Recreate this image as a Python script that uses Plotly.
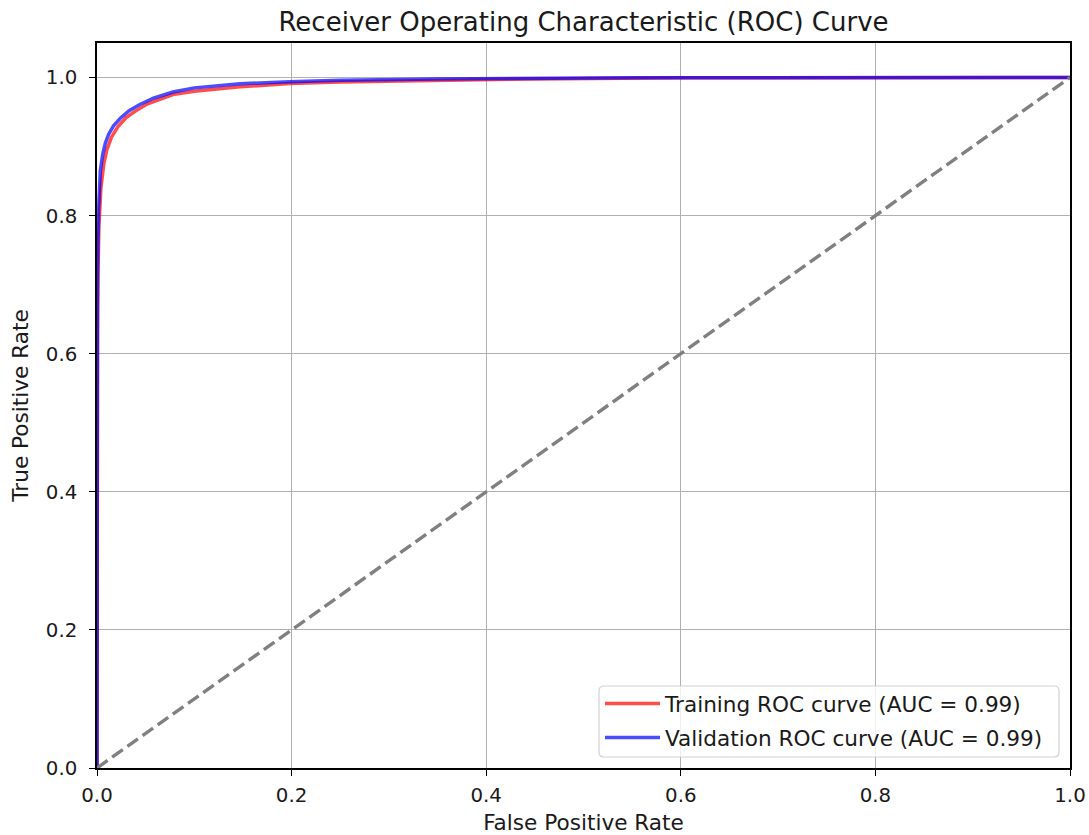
import plotly.graph_objects as go

# ROC curve points (false positive rate, true positive rate)
train_fpr = [0.0, 0.0, 0.0005, 0.001, 0.002, 0.004, 0.007, 0.010, 0.015, 0.0216, 0.030, 0.039,
             0.052, 0.078, 0.10, 0.147, 0.198, 0.25, 0.35, 0.45, 0.60, 1.0]
train_tpr = [0.0, 0.45, 0.63, 0.72, 0.785, 0.84, 0.875, 0.895, 0.914, 0.929, 0.942, 0.951,
             0.962, 0.9754, 0.980, 0.9865, 0.9913, 0.9935, 0.996, 0.998, 0.9995, 1.0]

val_fpr = [0.0, 0.0, 0.0005, 0.001, 0.0017, 0.0034, 0.006, 0.0086, 0.012, 0.017, 0.024, 0.033,
           0.044, 0.058, 0.078, 0.10, 0.147, 0.198, 0.25, 0.35, 0.55, 1.0]
val_tpr = [0.0, 0.50, 0.68, 0.76, 0.81, 0.865, 0.89, 0.905, 0.918, 0.930, 0.941, 0.952,
           0.961, 0.970, 0.979, 0.985, 0.991, 0.994, 0.996, 0.998, 0.9995, 1.0]

train_auc = 0.99
val_auc = 0.99

chance_x = [0.0, 1.0]
chance_y = [0.0, 1.0]

tick_vals = [0.0, 0.2, 0.4, 0.6, 0.8, 1.0]

FONT = "DejaVu Sans"
TXT = "#1a1a1a"
W, H = 1089, 835
ML, MR, MT, MB = 97, 19, 43, 67
PW, PH = W - ML - MR, H - MT - MB

fig = go.Figure()
fig.add_trace(go.Scatter(
    x=train_fpr, y=train_tpr, mode="lines",
    line=dict(color="rgba(255,0,0,0.7)", width=3.5),
    name=f"Training ROC curve (AUC = {train_auc:.2f})", legend="legend",
))
fig.add_trace(go.Scatter(
    x=val_fpr, y=val_tpr, mode="lines",
    line=dict(color="rgba(0,0,255,0.7)", width=3.5),
    name=f"Validation ROC curve (AUC = {val_auc:.2f})", legend="legend2",
))
fig.add_trace(go.Scatter(
    x=chance_x, y=chance_y, mode="lines",
    line=dict(color="gray", width=3.4, dash="13px,5.6px"),
    showlegend=False,
))


def px_to_paper(px, py):
    return (px - ML) / PW, (H - MB - py) / PH


# rounded legend frame
x0, y1 = px_to_paper(599, 686)
x1, y0 = px_to_paper(1059, 757)
rx, ry = 5 / PW, 5 / PH
path = (f"M{x0+rx},{y1} L{x1-rx},{y1} Q{x1},{y1} {x1},{y1-ry} "
        f"L{x1},{y0+ry} Q{x1},{y0} {x1-rx},{y0} L{x0+rx},{y0} "
        f"Q{x0},{y0} {x0},{y0+ry} L{x0},{y1-ry} Q{x0},{y1} {x0+rx},{y1} Z")
fig.add_shape(type="path", path=path, xref="paper", yref="paper",
              fillcolor="rgba(255,255,255,0.8)",
              line=dict(color="rgba(204,204,204,0.9)", width=1.2), layer="above")

lx, _ = px_to_paper(600, 0)
_, ly1 = px_to_paper(0, 704)
_, ly2 = px_to_paper(0, 738)
leg_common = dict(xanchor="left", yanchor="middle", bgcolor="rgba(0,0,0,0)",
                  borderwidth=0, itemwidth=55,
                  font=dict(family=FONT, size=21.6, color=TXT))

axis_common = dict(
    tickvals=tick_vals, tickformat=".1f", automargin=False,
    showgrid=True, gridcolor="#b0b0b0", gridwidth=1.3,
    showline=True, linecolor="black", linewidth=1.5, mirror=True,
    ticks="outside", ticklen=6, tickwidth=1.4, tickcolor="black",
    tickfont=dict(family=FONT, size=19.8, color=TXT),
    zeroline=False,
)

fig.update_layout(
    width=W, height=H,
    margin=dict(l=ML, r=MR, t=MT, b=MB, autoexpand=False),
    paper_bgcolor="white", plot_bgcolor="white",
    font=dict(family=FONT, color="black"),
    title=dict(text="Receiver Operating Characteristic (ROC) Curve",
               x=(ML + PW / 2) / W, xanchor="center",
               y=1 - 22 / H, yanchor="middle",
               font=dict(family=FONT, size=26, color=TXT)),
    legend=dict(x=lx, y=ly1, **leg_common),
    legend2=dict(x=lx, y=ly2, **leg_common),
    xaxis=dict(range=[0, 1], ticklabelstandoff=2,
               title=dict(text="False Positive Rate", standoff=15,
                          font=dict(family=FONT, size=21.6, color=TXT)),
               **axis_common),
    yaxis=dict(range=[0, 1.05], ticklabelstandoff=8,
               title=dict(text="True Positive Rate", standoff=11,
                          font=dict(family=FONT, size=21.6, color=TXT)),
               **axis_common),
)

fig.write_html("out.html")
